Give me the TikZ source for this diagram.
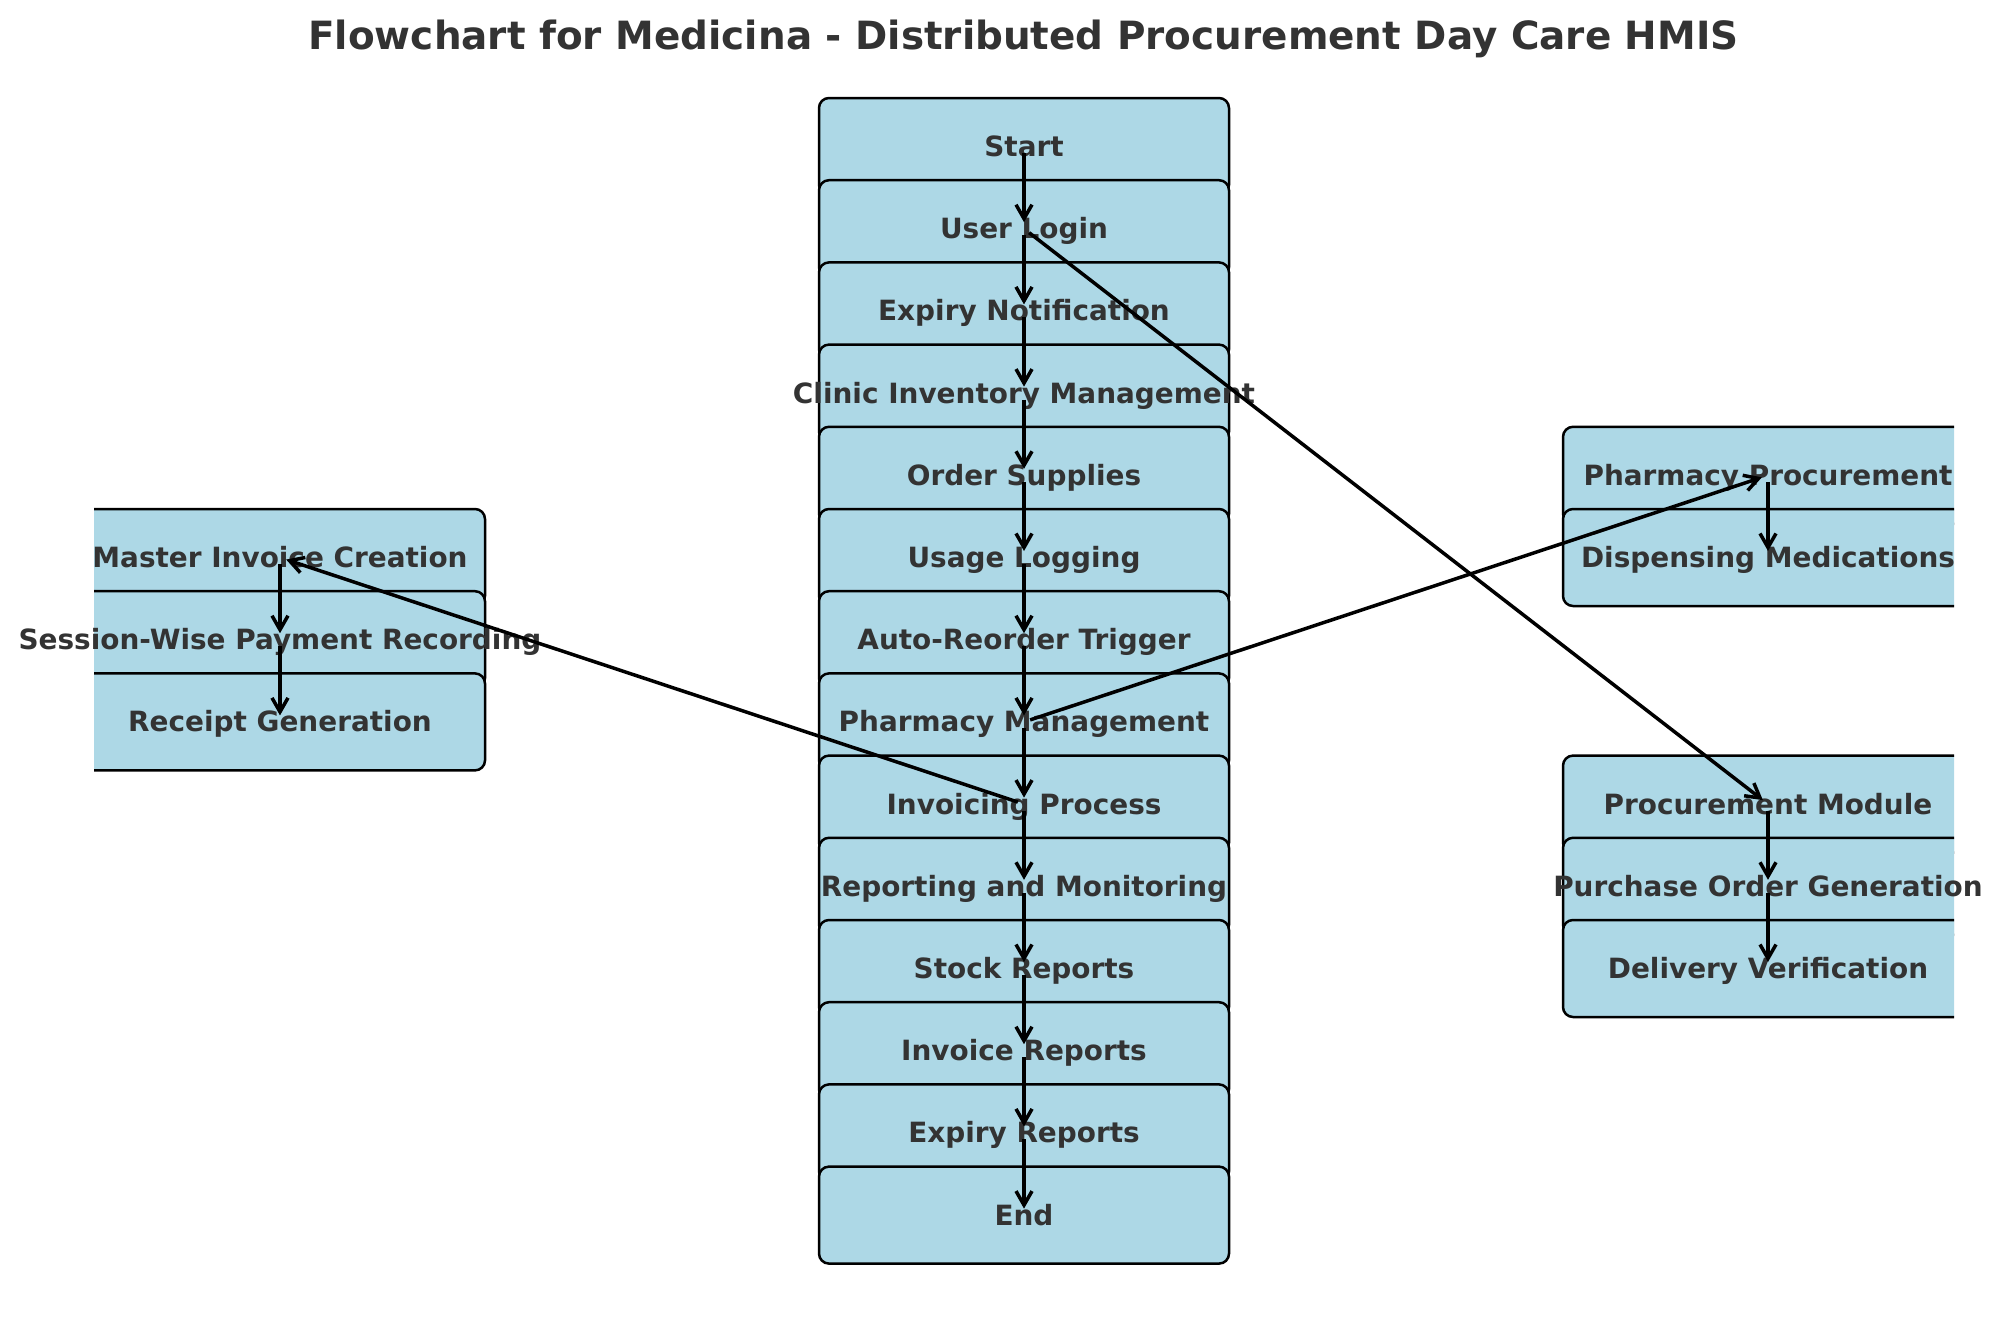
\documentclass[tikz,border=0pt]{standalone}
\usepackage{fontspec}
\setmainfont{DejaVu Sans}
\usetikzlibrary{arrows.meta,backgrounds}
\definecolor{boxblue}{HTML}{ADD8E6}
\definecolor{labelgray}{HTML}{333333}
\begin{document}
\begin{tikzpicture}[x=1pt,y=-1pt,
  lbl/.style={text=labelgray,font=\bfseries\fontsize{27.9}{33}\selectfont,inner sep=0pt,text height=20pt,text depth=0pt},
  heading/.style={text=labelgray,font=\bfseries\fontsize{38.9}{47}\selectfont,inner sep=0pt,text height=28.4pt,text depth=0pt},
  panel/.style={draw=black,line width=2.5pt,fill=boxblue,rounded corners=10pt},
  flow/.style={line width=3.5pt,-{Straight Barb[length=14pt,width=16pt]},shorten <=6.5pt,shorten >=6.5pt}]
  \useasboundingbox (0,0) rectangle (2002,1318);
  \node[heading] (title) at (1023.5,35.3) {Flowchart for Medicina - Distributed Procurement Day Care HMIS};
  % main column
  \node[lbl] (start) at (1024,146.5) {Start};
  \node[lbl] (login) at (1024,228.7) {User Login};
  \node[lbl] (expiry) at (1024,310.9) {Expiry Notification};
  \node[lbl] (inventory) at (1024,393.1) {Clinic Inventory Management};
  \node[lbl] (order) at (1024,475.3) {Order Supplies};
  \node[lbl] (usage) at (1024,557.5) {Usage Logging};
  \node[lbl] (reorder) at (1024,639.7) {Auto-Reorder Trigger};
  \node[lbl] (pharmacy) at (1024,721.9) {Pharmacy Management};
  \node[lbl] (invoicing) at (1024,804.1) {Invoicing Process};
  \node[lbl] (reporting) at (1024,886.3) {Reporting and Monitoring};
  \node[lbl] (stock) at (1024,968.5) {Stock Reports};
  \node[lbl] (invreports) at (1024,1050.7) {Invoice Reports};
  \node[lbl] (expreports) at (1024,1132.9) {Expiry Reports};
  \node[lbl] (stop) at (1024,1215.1) {End};
  % invoicing branch
  \node[lbl] (master) at (280,557.5) {Master Invoice Creation};
  \node[lbl] (session) at (280,639.7) {Session-Wise Payment Recording};
  \node[lbl] (receipt) at (280,721.9) {Receipt Generation};
  % pharmacy branch
  \node[lbl] (pharmproc) at (1768,475.3) {Pharmacy Procurement};
  \node[lbl] (dispense) at (1768,557.5) {Dispensing Medications};
  % procurement branch
  \node[lbl] (procmod) at (1768,804.1) {Procurement Module};
  \node[lbl] (purchase) at (1768,886.3) {Purchase Order Generation};
  \node[lbl] (delivery) at (1768,968.5) {Delivery Verification};
  % boxes behind the labels
  \begin{scope}[on background layer]
    \clip (94,0) rectangle (1954,1318);
    \draw[panel] ([shift={(-205,-48.5)}]start.center) rectangle +(410,97);
    \draw[panel] ([shift={(-205,-48.5)}]login.center) rectangle +(410,97);
    \draw[panel] ([shift={(-205,-48.5)}]expiry.center) rectangle +(410,97);
    \draw[panel] ([shift={(-205,-48.5)}]inventory.center) rectangle +(410,97);
    \draw[panel] ([shift={(-205,-48.5)}]order.center) rectangle +(410,97);
    \draw[panel] ([shift={(-205,-48.5)}]usage.center) rectangle +(410,97);
    \draw[panel] ([shift={(-205,-48.5)}]reorder.center) rectangle +(410,97);
    \draw[panel] ([shift={(-205,-48.5)}]pharmacy.center) rectangle +(410,97);
    \draw[panel] ([shift={(-205,-48.5)}]invoicing.center) rectangle +(410,97);
    \draw[panel] ([shift={(-205,-48.5)}]reporting.center) rectangle +(410,97);
    \draw[panel] ([shift={(-205,-48.5)}]stock.center) rectangle +(410,97);
    \draw[panel] ([shift={(-205,-48.5)}]invreports.center) rectangle +(410,97);
    \draw[panel] ([shift={(-205,-48.5)}]expreports.center) rectangle +(410,97);
    \draw[panel] ([shift={(-205,-48.5)}]stop.center) rectangle +(410,97);
    \draw[panel] ([shift={(-205,-48.5)}]master.center) rectangle +(410,97);
    \draw[panel] ([shift={(-205,-48.5)}]session.center) rectangle +(410,97);
    \draw[panel] ([shift={(-205,-48.5)}]receipt.center) rectangle +(410,97);
    \draw[panel] ([shift={(-205,-48.5)}]pharmproc.center) rectangle +(410,97);
    \draw[panel] ([shift={(-205,-48.5)}]dispense.center) rectangle +(410,97);
    \draw[panel] ([shift={(-205,-48.5)}]procmod.center) rectangle +(410,97);
    \draw[panel] ([shift={(-205,-48.5)}]purchase.center) rectangle +(410,97);
    \draw[panel] ([shift={(-205,-48.5)}]delivery.center) rectangle +(410,97);
  \end{scope}
  % connectors
  \draw[flow] (start.center) -- (login.center);
  \draw[flow] (login.center) -- (expiry.center);
  \draw[flow] (expiry.center) -- (inventory.center);
  \draw[flow] (inventory.center) -- (order.center);
  \draw[flow] (order.center) -- (usage.center);
  \draw[flow] (usage.center) -- (reorder.center);
  \draw[flow] (reorder.center) -- (pharmacy.center);
  \draw[flow] (pharmacy.center) -- (invoicing.center);
  \draw[flow] (invoicing.center) -- (reporting.center);
  \draw[flow] (reporting.center) -- (stock.center);
  \draw[flow] (stock.center) -- (invreports.center);
  \draw[flow] (invreports.center) -- (expreports.center);
  \draw[flow] (expreports.center) -- (stop.center);
  \draw[flow] (login.center) -- (procmod.center);
  \draw[flow] (pharmacy.center) -- (pharmproc.center);
  \draw[flow] (invoicing.center) -- (master.center);
  \draw[flow] (master.center) -- (session.center);
  \draw[flow] (session.center) -- (receipt.center);
  \draw[flow] (pharmproc.center) -- (dispense.center);
  \draw[flow] (procmod.center) -- (purchase.center);
  \draw[flow] (purchase.center) -- (delivery.center);
\end{tikzpicture}
\end{document}
